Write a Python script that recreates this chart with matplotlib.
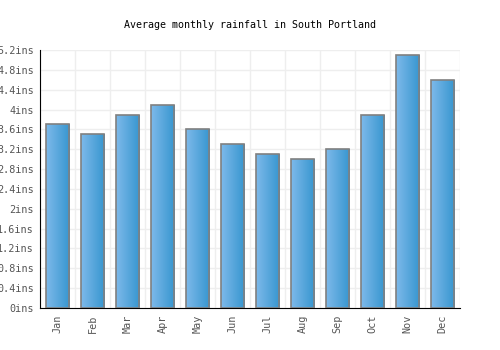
import matplotlib
matplotlib.use("Agg")
import matplotlib.pyplot as plt
import numpy as np
from matplotlib.colors import LinearSegmentedColormap

months = ["Jan", "Feb", "Mar", "Apr", "May", "Jun", "Jul", "Aug", "Sep", "Oct", "Nov", "Dec"]
rainfall = [3.7, 3.5, 3.9, 4.1, 3.6, 3.3, 3.1, 3.0, 3.2, 3.9, 5.1, 4.6]
yticks = [0, 0.4, 0.8, 1.2, 1.6, 2.0, 2.4, 2.8, 3.2, 3.6, 4.0, 4.4, 4.8, 5.2]
ytick_labels = ["0ins", "0.4ins", "0.8ins", "1.2ins", "1.6ins", "2ins", "2.4ins", "2.8ins",
                "3.2ins", "3.6ins", "4ins", "4.4ins", "4.8ins", "5.2ins"]

plt.rcParams['font.family'] = ['DejaVu Sans Mono']
fig = plt.figure(figsize=(5, 3.5), dpi=100)
ax = fig.add_axes([0.08, 0.12, 0.84, 0.737])

x = np.arange(len(months))
width = 0.68
cmap = LinearSegmentedColormap.from_list("g", ["#7db9ea", "#3796cf"])
grad = np.linspace(0, 1, 64).reshape(1, -1)
bars = ax.bar(x, rainfall, width=width, facecolor="none", edgecolor="#808080", linewidth=1.2, zorder=3)
for b in bars:
    x0, y0 = b.get_x(), b.get_y()
    w, h = b.get_width(), b.get_height()
    im = ax.imshow(grad, extent=[x0, x0 + w, y0, y0 + h], cmap=cmap, aspect="auto", zorder=2)
    im.set_clip_path(b)

ax.set_xlim(-0.5, len(months) - 0.5)
ax.set_ylim(0, 5.2)
ax.set_yticks(yticks)
ax.set_yticklabels(ytick_labels)
ax.set_xticks(x)
ax.set_xticklabels(months, rotation=90)
ax.set_xticks(np.arange(-0.5, len(months), 1), minor=True)
ax.grid(True, axis="y", color="#eeeeee", linewidth=1, zorder=0)
ax.grid(True, axis="x", which="minor", color="#eeeeee", linewidth=1, zorder=0)
ax.tick_params(axis="both", which="both", length=0, labelsize=7.3, labelcolor="#555555")
ax.tick_params(axis="y", pad=4.5)
ax.tick_params(axis="x", pad=5)
for s in ["top", "right"]:
    ax.spines[s].set_visible(False)
ax.spines["left"].set_color("black")
ax.spines["bottom"].set_color("black")
ax.set_axisbelow(True)
fig.text(0.5, 0.93, "Average monthly rainfall in South Portland", ha="center", va="center", fontsize=7.2, color="black")
fig.savefig("out.png", dpi=100)
